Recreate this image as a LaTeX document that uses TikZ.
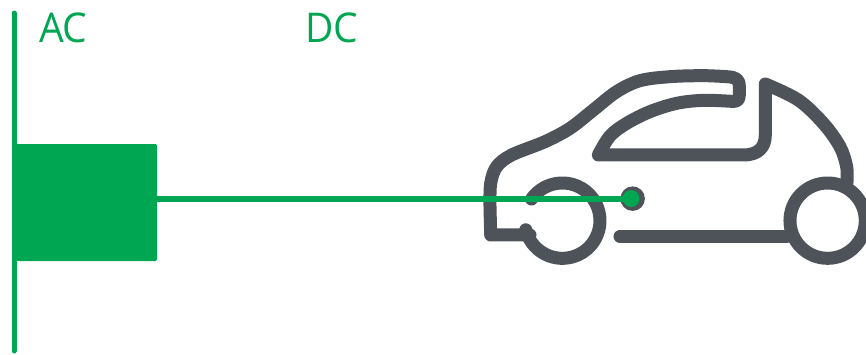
\documentclass[tikz,border=0pt]{standalone}
\usepackage{fontspec}
\setmainfont{Open Sans}
\definecolor{brandgreen}{RGB}{0,166,81}
\definecolor{cargray}{RGB}{77,83,88}
\tikzset{
  carline/.style={draw=cargray,line width=13pt,line cap=round,line join=round},
  greenline/.style={draw=brandgreen,line cap=round},
  label/.style={text=brandgreen,font=\fontsize{41}{41}\selectfont,anchor=base west,inner sep=0pt,outer sep=0pt,xscale=0.95}
}
\begin{document}
\begin{tikzpicture}[x=1pt,y=-1pt]
\useasboundingbox (0,0) rectangle (866,354);
% car body
\begin{scope}[shift={(470,60)},x=0.3333pt,y=-0.3333pt]
  \draw[carline] (180,525) -- (62,525) -- (60,440)
     plot[smooth,tension=0.55] coordinates {(60,440) (62,370) (80,320) (125,285) (225,245) (300,205) (370,150) (440,95) (510,62) (600,50) (700,47) (770,50)}
     .. controls (800,52) and (808,58) .. (808,80)
     -- (808,105) .. controls (808,122) and (800,125) .. (785,124)
     plot[smooth,tension=0.55] coordinates {(785,124) (700,121) (620,130) (540,155) (470,190) (420,228) (385,285)}
     -- (820,285) .. controls (865,285) and (886,262) .. (886,225)
     -- (886,72)
     plot[smooth,tension=0.55] coordinates {(886,72) (985,120) (1060,190) (1110,260) (1130,320) (1131,368)};
  \draw[carline] (450,529) -- (950,529);
  % wheels
  \coordinate (frontwheel) at (277,482);
  \coordinate (rearwheel) at (1073,482);
  \draw[carline] (frontwheel) ++(166:113) arc[start angle=166,end angle=-145,radius=113];
  \draw[carline] (rearwheel) circle[radius=113];
  % charge port
  \node[circle,fill=cargray,minimum size=24.5pt,inner sep=0pt] (port) at (488,416) {};
\end{scope}
% AC bus
\coordinate (bustop) at (14,13);
\coordinate (busbottom) at (14,351);
\draw[greenline,line width=5pt] (bustop) -- (busbottom);
% converter
\node[fill=brandgreen,draw=brandgreen,line width=1pt,rounded corners=1pt,minimum width=141pt,minimum height=116pt,inner sep=0pt,anchor=north west] (conv) at (15,144) {};
% DC link
\node[circle,fill=brandgreen,minimum size=17pt,inner sep=0pt] (plug) at (631,198.5) {};
\draw[greenline,line width=6pt,line cap=butt] (conv.east |- plug) -- (plug.center);
% labels
\node[label] (ac) at (39,42) {AC};
\node[label] (dc) at (305,42) {DC};
\end{tikzpicture}
\end{document}
